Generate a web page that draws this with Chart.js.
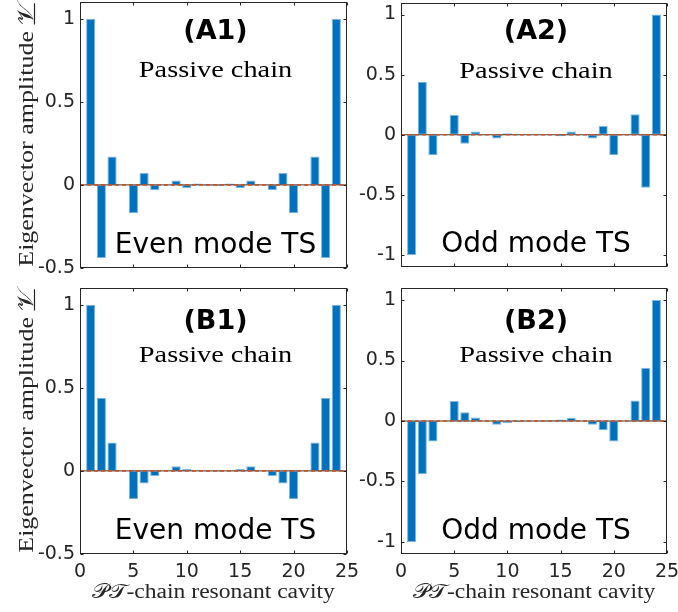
<!DOCTYPE html>
<html>
<head>
<meta charset="utf-8">
<title>PT-chain eigenvector amplitudes</title>
<script src="https://cdn.jsdelivr.net/npm/chart.js@4.4.1/dist/chart.umd.min.js"></script>
<style>
  html, body { margin: 0; padding: 0; background: #ffffff; }
  #figure { position: relative; width: 678px; height: 612px; overflow: hidden; }
  #figure canvas { position: absolute; left: 0; top: 0; }
</style>
</head>
<body>
<div id="figure">
  <canvas id="panelA1" width="678" height="612"></canvas>
  <canvas id="panelA2" width="678" height="612"></canvas>
  <canvas id="panelB1" width="678" height="612"></canvas>
  <canvas id="panelB2" width="678" height="612"></canvas>
</div>
<script>
// Resonant cavity index along the chain
const cavityIndex = [1, 2, 3, 4, 5, 6, 7, 8, 9, 10, 11, 12,
                     13, 14, 15, 16, 17, 18, 19, 20, 21, 22, 23, 24];

// Eigenvector amplitudes per cavity
const evenModeA1 = [1.00, -0.44, 0.17, 0.00, -0.17, 0.072, -0.032, 0.00, 0.026, -0.019, 0.008, -0.006,
                    -0.006, 0.008, -0.019, 0.026, 0.00, -0.032, 0.072, -0.17, 0.00, 0.17, -0.44, 1.00];
const oddModeA2  = [-1.00, 0.44, -0.17, 0.00, 0.165, -0.075, 0.028, 0.00, -0.032, 0.012, 0.002, 0.003,
                    -0.003, -0.002, -0.012, 0.028, 0.00, -0.032, 0.073, -0.17, 0.00, 0.17, -0.44, 1.00];
const evenModeB1 = [1.00, 0.44, 0.17, 0.00, -0.17, -0.076, -0.031, 0.00, 0.028, 0.012, 0.002, -0.004,
                    -0.004, 0.002, 0.012, 0.028, 0.00, -0.031, -0.076, -0.17, 0.00, 0.17, 0.44, 1.00];
const oddModeB2  = [-1.00, -0.44, -0.17, 0.00, 0.165, 0.072, 0.028, 0.00, -0.032, -0.017, -0.008, -0.004,
                    0.004, 0.007, 0.012, 0.027, 0.00, -0.032, -0.077, -0.17, 0.00, 0.17, 0.44, 1.00];

// Reference line y = 0 across the cavity range
const zeroLineX = [0, 25];
const zeroLineY = [0, 0];

// Tick values
const xTickValues = [0, 5, 10, 15, 20, 25];
const yTicksEven  = [-0.5, 0, 0.5, 1];
const yTicksOdd   = [-1, -0.5, 0, 0.5, 1];

const AXIS_COLOR = '#262626';
const BAR_COLOR = '#0072BD';
const BAR_EDGE = '#7fb6e3';
const DASH_COLOR = '#C4532A';
const TICK_FONT = { family: '"DejaVu Sans", sans-serif', size: 19 };
const Y_AXIS_W = 50;
const X_AXIS_H = 40;
const PAGE_W = 678, PAGE_H = 612;

function drawStretched(ctx, text, x, y, font, sx, rot) {
  ctx.save();
  ctx.translate(x, y);
  if (rot) ctx.rotate(rot);
  ctx.scale(sx, 1);
  ctx.font = font;
  ctx.fillText(text, 0, 0);
  ctx.restore();
}

const panelDecor = {
  id: 'panelDecor',
  afterDraw(chart, args, o) {
    const { ctx, chartArea: a, scales: { x, y } } = chart;
    ctx.save();
    // axes box
    ctx.strokeStyle = AXIS_COLOR;
    ctx.lineWidth = 1;
    const L = Math.round(a.left) + 0.5, R = Math.round(a.right) - 0.5;
    const T = Math.round(a.top) + 0.5, B = Math.round(a.bottom) - 0.5;
    ctx.strokeRect(L, T, R - L, B - T);
    // inward tick marks on all four sides
    const tl = 3;
    ctx.beginPath();
    xTickValues.forEach(v => {
      const px = Math.round(x.getPixelForValue(v)) + 0.5;
      ctx.moveTo(px, B); ctx.lineTo(px, B - tl);
      ctx.moveTo(px, T); ctx.lineTo(px, T + tl);
    });
    o.yTicks.forEach(v => {
      const py = Math.round(y.getPixelForValue(v)) + 0.5;
      ctx.moveTo(L, py); ctx.lineTo(L + tl, py);
      ctx.moveTo(R, py); ctx.lineTo(R - tl, py);
    });
    ctx.stroke();

    const cx = (a.left + a.right) / 2 + 2;
    ctx.fillStyle = '#000000';
    ctx.textAlign = 'center';
    // panel tag
    ctx.textBaseline = 'middle';
    drawStretched(ctx, o.tag, cx, a.top + o.tagDy, 'bold 27px "DejaVu Sans", sans-serif', 1.0);
    // chain description
    ctx.textBaseline = 'alphabetic';
    drawStretched(ctx, 'Passive chain', cx, a.top + o.chainDy, '24px "Liberation Serif", serif', 1.18);
    // mode name
    drawStretched(ctx, o.mode, cx, a.bottom - 15, '28px "DejaVu Sans", sans-serif', 1.0);

    ctx.fillStyle = AXIS_COLOR;
    if (o.yTitle) {
      const yc = (a.top + a.bottom) / 2;
      const font = '22px "Liberation Serif", serif';
      const sx = 1.18;
      const label = 'Eigenvector amplitude 𝒱';
      drawStretched(ctx, label, 33, yc, font, sx, -Math.PI / 2);
      // underline beneath the vector symbol
      ctx.save();
      ctx.font = font;
      const full = ctx.measureText(label).width * sx;
      const gw = ctx.measureText('𝒱').width * sx;
      ctx.restore();
      ctx.beginPath();
      ctx.lineWidth = 1.2;
      ctx.strokeStyle = AXIS_COLOR;
      ctx.moveTo(34.5, yc - full / 2);
      ctx.lineTo(34.5, yc - full / 2 + gw);
      ctx.stroke();
    }
    if (o.xTitle) {
      drawStretched(ctx, '𝒫𝒯-chain resonant cavity', cx - 2, a.bottom + 44, '20px "Liberation Serif", serif', 1.18);
    }
    ctx.restore();
  }
};

function zeroFit(scale) {
  scale.paddingLeft = 0; scale.paddingRight = 0;
  scale.paddingTop = 0; scale.paddingBottom = 0;
}

function makePanel(p) {
  const barData = cavityIndex.map((c, i) => ({ x: c, y: p.values[i] }));
  const zeroData = zeroLineX.map((v, i) => ({ x: v, y: zeroLineY[i] }));
  return new Chart(document.getElementById(p.id), {
    type: 'bar',
    data: {
      datasets: [
        {
          type: 'bar', data: barData, order: 3,
          backgroundColor: BAR_COLOR, borderColor: BAR_EDGE, borderWidth: 1,
          borderSkipped: false,
          barPercentage: 0.86, categoryPercentage: 1.0
        },
        {
          type: 'line', data: zeroData, order: 2,
          borderColor: '#3a3a3a', borderWidth: 1, pointRadius: 0, fill: false
        },
        {
          type: 'line', data: zeroData, order: 1,
          borderColor: DASH_COLOR, borderWidth: 1.6, borderDash: [4, 3],
          pointRadius: 0, fill: false
        }
      ]
    },
    options: {
      responsive: false,
      animation: false,
      events: [],
      devicePixelRatio: 1,
      layout: {
        padding: {
          left: p.area.l - Y_AXIS_W,
          top: p.area.t,
          right: PAGE_W - p.area.r,
          bottom: PAGE_H - p.area.b - X_AXIS_H
        }
      },
      plugins: {
        legend: { display: false },
        tooltip: { enabled: false },
        panelDecor: {
          tag: p.tag, mode: p.mode, yTicks: p.yTicks,
          tagDy: p.tagDy, chainDy: p.chainDy,
          yTitle: p.yTitle, xTitle: p.xTitle
        }
      },
      scales: {
        x: {
          type: 'linear', min: 0, max: 25, offset: false,
          grid: { display: false, drawTicks: false, offset: false },
          border: { display: false },
          afterBuildTicks: s => { s.ticks = xTickValues.map(v => ({ value: v })); },
          afterFit: s => { s.height = X_AXIS_H; zeroFit(s); },
          ticks: {
            display: p.xTitle, color: AXIS_COLOR, font: TICK_FONT,
            padding: 7, maxRotation: 0, autoSkip: false,
            callback: v => String(v)
          }
        },
        y: {
          type: 'linear', min: p.yMin, max: p.yMax,
          grid: { display: false, drawTicks: false },
          border: { display: false },
          afterBuildTicks: s => { s.ticks = p.yTicks.map(v => ({ value: v })); },
          afterFit: s => { s.width = Y_AXIS_W; zeroFit(s); },
          ticks: {
            color: AXIS_COLOR, font: TICK_FONT, padding: 5,
            callback: v => String(v)
          }
        }
      }
    },
    plugins: [panelDecor]
  });
}

const panels = [
  { id: 'panelA1', values: evenModeA1, yMin: -0.5, yMax: 1.1, yTicks: yTicksEven,
    area: { l: 80, t: 2, r: 347, b: 268 }, tag: '(A1)', mode: 'Even mode TS',
    tagDy: 29.5, chainDy: 75, yTitle: true, xTitle: false },
  { id: 'panelA2', values: oddModeA2, yMin: -1.1, yMax: 1.1, yTicks: yTicksOdd,
    area: { l: 401, t: 2.5, r: 667, b: 267 }, tag: '(A2)', mode: 'Odd mode TS',
    tagDy: 29.5, chainDy: 75, yTitle: false, xTitle: false },
  { id: 'panelB1', values: evenModeB1, yMin: -0.5, yMax: 1.1, yTicks: yTicksEven,
    area: { l: 80, t: 288, r: 347, b: 554 }, tag: '(B1)', mode: 'Even mode TS',
    tagDy: 34, chainDy: 73.5, yTitle: true, xTitle: true },
  { id: 'panelB2', values: oddModeB2, yMin: -1.1, yMax: 1.1, yTicks: yTicksOdd,
    area: { l: 401, t: 288, r: 667, b: 554 }, tag: '(B2)', mode: 'Odd mode TS',
    tagDy: 34, chainDy: 73.5, yTitle: false, xTitle: true }
];

panels.forEach(makePanel);
</script>
</body>
</html>
